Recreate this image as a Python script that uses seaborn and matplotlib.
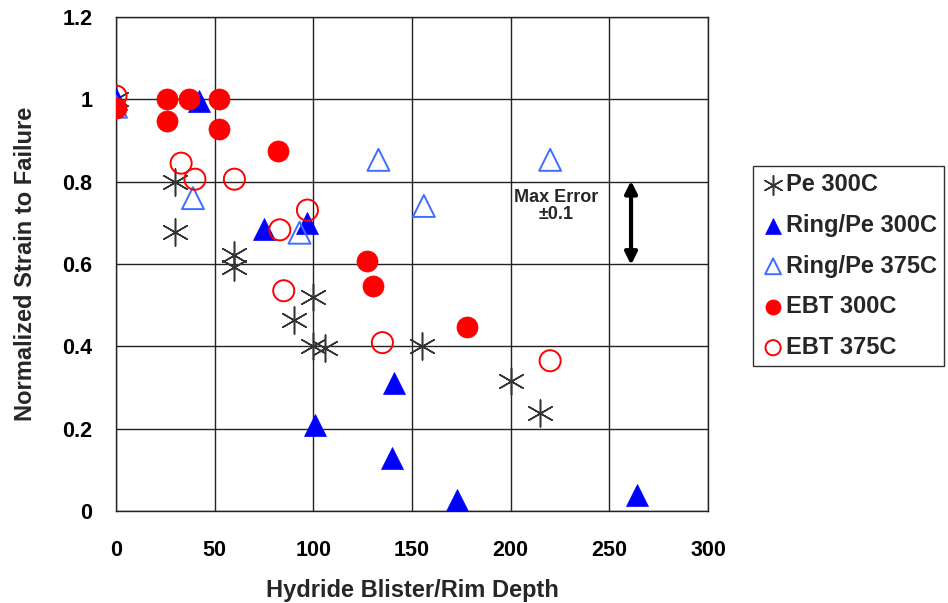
import matplotlib
matplotlib.use("Agg")
import matplotlib.pyplot as plt
import seaborn as sns
import pandas as pd

# ---- data ----
pe300_x = [0, 30, 30, 60, 60, 90, 100, 100, 106, 155, 200, 215]
pe300_y = [1.0, 0.80, 0.678, 0.622, 0.593, 0.465, 0.52, 0.40, 0.395, 0.40, 0.316, 0.238]

ring300_x = [0, 42, 75, 97, 101, 140, 141, 173, 264]
ring300_y = [1.0, 0.995, 0.685, 0.70, 0.209, 0.128, 0.31, 0.027, 0.039]

ring375_x = [0, 39, 93, 133, 156, 220]
ring375_y = [0.982, 0.76, 0.676, 0.853, 0.741, 0.853]

ebt300_x = [0, 26, 26, 37, 52, 52, 82, 127, 130, 178]
ebt300_y = [0.978, 1.0, 0.947, 1.0, 1.0, 0.927, 0.874, 0.608, 0.547, 0.448]

ebt375_x = [0, 33, 40, 60, 83, 85, 97, 135, 220]
ebt375_y = [1.008, 0.845, 0.806, 0.806, 0.683, 0.535, 0.731, 0.409, 0.365]

labels = ["Pe 300C", "Ring/Pe 300C", "Ring/Pe 375C", "EBT 300C", "EBT 375C"]
x_ticks = [0, 50, 100, 150, 200, 250, 300]
y_ticks = [0, 0.2, 0.4, 0.6, 0.8, 1.0, 1.2]
y_ticklabels = ["0", "0.2", "0.4", "0.6", "0.8", "1", "1.2"]

sns.set_theme(style="white")
plt.rcParams["font.family"] = ["Liberation Sans", "DejaVu Sans"]
plt.rcParams["font.weight"] = "bold"

fig = plt.figure(figsize=(9.48, 6.03), dpi=100)
ax = fig.add_axes([116/948, 1-511/603, (708-116)/948, (511-17)/603])

grid_c = "#222222"
ax.set_axisbelow(True)
ax.grid(True, color=grid_c, linewidth=1.0)

ms = 250
sns.scatterplot(x=pe300_x, y=pe300_y, ax=ax, marker=(6, 2, 0), s=380,
                color="#333333", edgecolor="#333333", linewidth=1.1, label=labels[0], zorder=3)
sns.scatterplot(x=ring300_x, y=ring300_y, ax=ax, marker="^", s=ms,
                color="#0000ff", edgecolor="#0000ff", linewidth=0.5, label=labels[1], zorder=3)
sns.scatterplot(x=ring375_x, y=ring375_y, ax=ax, marker="^", s=ms,
                facecolors="none", edgecolor="#3f6dff", linewidth=1.4, label=labels[2], zorder=3)
sns.scatterplot(x=ebt300_x, y=ebt300_y, ax=ax, marker="o", s=230,
                color="#ff0000", edgecolor="#ff0000", linewidth=0.5, label=labels[3], zorder=3)
sns.scatterplot(x=ebt375_x, y=ebt375_y, ax=ax, marker="o", s=230,
                facecolors="none", edgecolor="#ff0000", linewidth=1.4, label=labels[4], zorder=3)

ax.set_xlim(0, 300)
ax.set_ylim(0, 1.2)
ax.set_xticks(x_ticks)
ax.set_xticklabels([str(v) for v in x_ticks])
ax.set_yticks(y_ticks)
ax.set_yticklabels(y_ticklabels)
ax.tick_params(axis="both", which="both", direction="out", length=7, width=1,
               color=grid_c, labelsize=15.5, labelcolor="black")
ax.tick_params(axis="x", pad=14)
ax.tick_params(axis="y", pad=10)
for lab in ax.get_xticklabels() + ax.get_yticklabels():
    lab.set_fontweight("bold")

for sp in ax.spines.values():
    sp.set_color(grid_c)
    sp.set_linewidth(1.0)

ax.set_xlabel("Hydride Blister/Rim Depth", fontsize=17, fontweight="bold", labelpad=13)
ax.set_ylabel("Normalized Strain to Failure", fontsize=17, fontweight="bold", labelpad=18)

ax.text(223, 0.74, "Max Error\n±0.1", ha="center", va="center", fontsize=13,
        fontweight="bold", linespacing=1.0)
ax.annotate("", xy=(261, 0.598), xytext=(261, 0.802),
            arrowprops=dict(arrowstyle="<|-|>", lw=3, color="black",
                            mutation_scale=18, shrinkA=0, shrinkB=0))

leg = ax.legend(loc="upper left", bbox_to_anchor=(753/948, 1-166/603),
                bbox_transform=fig.transFigure, borderaxespad=0,
                prop={"size": 17, "weight": "bold"}, markerscale=0.72,
                frameon=True, fancybox=False, edgecolor="black",
                labelspacing=0.75, handletextpad=0.0, handlelength=1.1,
                borderpad=0.3)
leg.get_frame().set_linewidth(1.0)

fig.savefig("out.png", dpi=100)
